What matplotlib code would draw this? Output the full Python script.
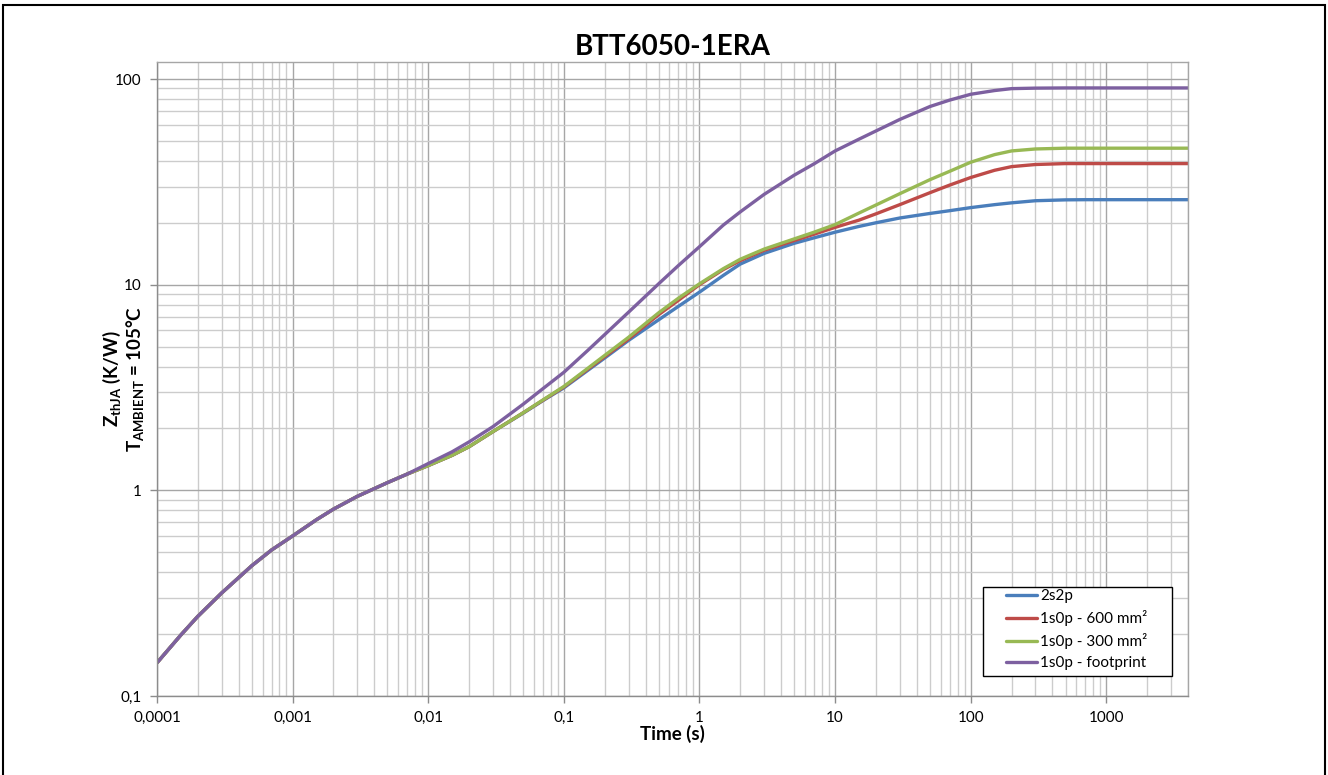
import matplotlib
matplotlib.use("Agg")
import matplotlib.pyplot as plt
import matplotlib.ticker as mticker
from matplotlib.patches import Rectangle

plt.rcParams['font.family'] = ['Lato', 'DejaVu Sans']
# only the y label uses mathtext, and it is bold all through
plt.rcParams['mathtext.fontset'] = 'custom'
plt.rcParams['mathtext.rm'] = 'Lato:bold'
plt.rcParams['mathtext.it'] = 'Lato:bold'
plt.rcParams['mathtext.bf'] = 'Lato:bold'

# time (s) and Zth (K/W)
time_s = [0.0001, 0.00015, 0.0002, 0.0003, 0.0005, 0.0007, 0.001, 0.0015, 0.002, 0.003,
          0.005, 0.007, 0.01, 0.015, 0.02, 0.03, 0.05, 0.07, 0.1, 0.15,
          0.2, 0.3, 0.5, 0.7, 1, 1.5, 2, 3, 5, 7,
          10, 15, 20, 30, 50, 70, 100, 150, 200, 300,
          500, 700, 1000, 2000, 4000]

# the four curves are on top of each other at short times
z_common = [0.145, 0.198, 0.244, 0.317, 0.43, 0.513, 0.60, 0.72, 0.81, 0.935, 1.09, 1.2]

z_2s2p = z_common + [1.32, 1.48, 1.63, 1.93, 2.37, 2.73, 3.15, 3.83, 4.4, 5.36,
                     6.75, 7.85, 9.2, 11.1, 12.6, 14.2, 15.9, 16.9, 18.0, 19.2,
                     20.0, 21.1, 22.2, 22.9, 23.7, 24.5, 25.0, 25.6, 25.85, 25.9,
                     25.9, 25.9, 25.9]
z_600 = z_common + [1.32, 1.48, 1.63, 1.93, 2.38, 2.74, 3.18, 3.88, 4.47, 5.45,
                    7.15, 8.4, 10.0, 11.85, 13.1, 14.7, 16.4, 17.6, 19.0, 20.6,
                    22.1, 24.5, 28.0, 30.5, 33.2, 36.0, 37.5, 38.4, 38.8, 38.8,
                    38.8, 38.8, 38.8]
z_300 = z_common + [1.32, 1.48, 1.63, 1.93, 2.38, 2.75, 3.2, 3.92, 4.53, 5.55,
                    7.3, 8.6, 10.1, 11.97, 13.3, 14.9, 16.7, 18.0, 19.6, 22.3,
                    24.4, 27.7, 32.4, 35.6, 39.4, 42.9, 44.7, 45.7, 46.1, 46.1,
                    46.1, 46.1, 46.1]
z_foot = z_common + [1.35, 1.54, 1.72, 2.04, 2.62, 3.12, 3.75, 4.79, 5.72, 7.35,
                     10.1, 12.4, 15.3, 19.5, 22.6, 27.5, 34.1, 38.7, 44.7, 51.0,
                     55.9, 63.6, 73.5, 79.0, 84.3, 87.9, 89.8, 90.3, 90.5, 90.5,
                     90.5, 90.5, 90.5]

series = [
  ("2s2p", z_2s2p, "#4A7EBB"),
  ("1s0p - 600 mm²", z_600, "#BE4B48"),
  ("1s0p - 300 mm²", z_300, "#98B954"),
  ("1s0p - footprint", z_foot, "#7D60A0"),
]

W, H = 1328, 775
fig = plt.figure(figsize=(W/100, H/100), dpi=100)
ax = fig.add_axes([157/W, 1 - 696/H, (1188-157)/W, (696-62)/H])

for name, z, col in series:
  ax.plot(time_s, z, color=col, lw=2.4, label=name, solid_capstyle='round',
          solid_joinstyle='round')

ax.set_xscale('log')
ax.set_yscale('log')
ax.set_xlim(0.0001, 4000)
ax.set_ylim(0.1, 121)

def comma_fmt(v, pos):
  return ('{:g}'.format(v)).replace('.', ',')

for a in (ax.xaxis, ax.yaxis):
  a.set_major_locator(mticker.LogLocator(base=10, numticks=20))
  a.set_minor_locator(mticker.LogLocator(base=10, subs=range(2, 10), numticks=20))
  a.set_major_formatter(mticker.FuncFormatter(comma_fmt))
  a.set_minor_formatter(mticker.NullFormatter())

ax.grid(True, which='major', color='#a6a6a6', lw=1.0)
ax.grid(True, which='minor', color='#cccccc', lw=1.0)
ax.set_axisbelow(True)
ax.tick_params(which='major', length=5, width=1, color='#8c8c8c', labelsize=11, pad=6)
ax.tick_params(which='minor', length=0)
for s in ax.spines.values():
  s.set_color('#a6a6a6')
  s.set_linewidth(1.0)
ax.spines['left'].set_color('#8c8c8c')
ax.spines['bottom'].set_color('#8c8c8c')

ax.set_title("BTT6050-1ERA", fontsize=20, fontweight='bold', pad=5)
ax.set_xlabel("Time (s)", fontsize=13.5, fontweight='bold', labelpad=0)
ax.set_ylabel("$\\mathrm{Z}_{\\mathrm{thJA}}$ (K/W)\n$\\mathrm{T}_{\\mathrm{AMBIENT}}$ = 105°C",
              fontsize=13.5, fontweight='bold', linespacing=1.05)
ax.yaxis.set_label_coords(-0.0105, 0.5)

# legend: square black box, drawn by hand to get Excel's padding
ax.add_patch(Rectangle((0.8012, 0.0315), 0.9845 - 0.8012, 0.1719 - 0.0315,
                       transform=ax.transAxes, facecolor='white', edgecolor='black',
                       lw=1.0, zorder=4, clip_on=False))
leg = ax.legend(loc='upper left', bbox_to_anchor=((1006-157)/1031, (696-589)/634),
                borderaxespad=0, borderpad=0, frameon=False, fontsize=11,
                handlelength=2.03, handletextpad=0.2, labelspacing=0.46)
leg.set_zorder(5)

fig.patches.append(Rectangle((3/W, -0.01), (1325-3)/W, 1.01 - 4.5/H,
                             transform=fig.transFigure, fill=False,
                             edgecolor='black', lw=1.5))

fig.savefig("out.png", dpi=100)
